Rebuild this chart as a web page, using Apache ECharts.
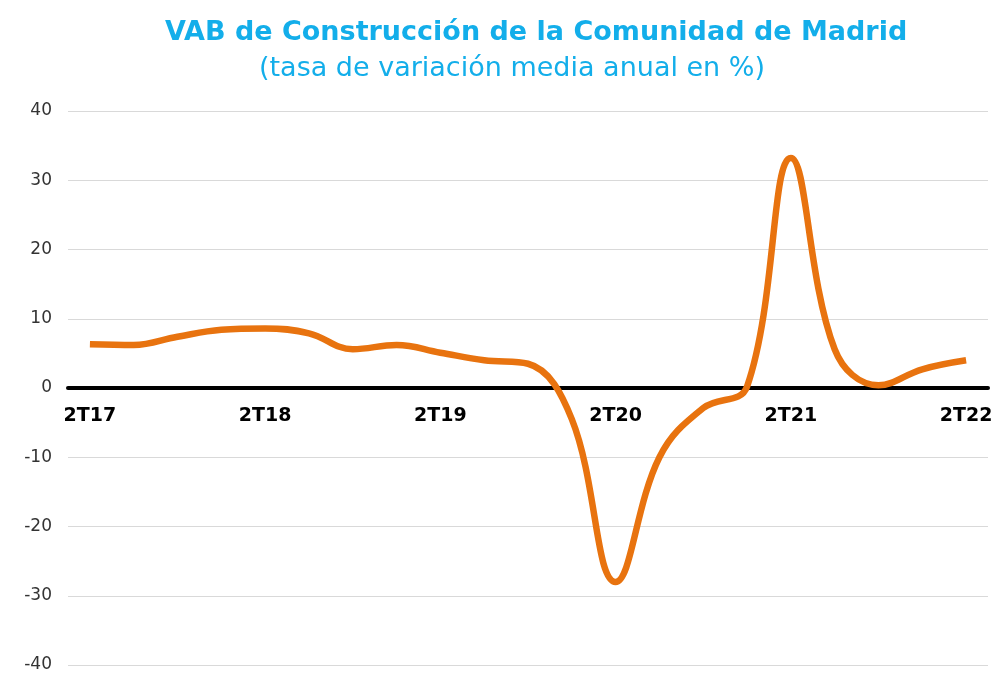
<!DOCTYPE html>
<html>
<head>
<meta charset="utf-8">
<script src="https://cdn.jsdelivr.net/npm/echarts@6/dist/echarts.min.js"></script>
<style>
  html, body { margin: 0; padding: 0; background: #fff; }
  #main { width: 997px; height: 675px; }
</style>
</head>
<body>
<div id="main"></div>
<script>
var quarters = ['2T17', '3T17', '4T17', '1T18', '2T18', '3T18', '4T18', '1T19', '2T19', '3T19', '4T19',
                '1T20', '2T20', '3T20', '4T20', '1T21', '2T21', '3T21', '4T21', '1T22', '2T22'];
var vab = [6.3, 6.2, 7.4, 8.4, 8.6, 7.9, 5.6, 6.2, 5.1, 4.0, 3.5,
           -4.5, -28.0, -10.0, -2.9, 0.2, 33.2, 5.6, 0.4, 2.7, 4.0];
var yTicks = [-40, -30, -20, -10, 0, 10, 20, 30, 40];

var myChart = echarts.init(document.getElementById('main'));
option = {
    title: [
        {
            text: 'VAB de Construcción de la Comunidad de Madrid',
            left: 160,
            top: 14,
            textStyle: {
                color: '#13AEEA',
                fontSize: 27,
                fontWeight: 'bold',
                fontFamily: 'DejaVu Sans'
            }
        },
        {
            text: '(tasa de variación media anual en %)',
            left: 254,
            top: 50,
            textStyle: {
                color: '#13AEEA',
                fontSize: 27,
                fontWeight: 'normal',
                fontFamily: 'DejaVu Sans'
            }
        }
    ],
    grid: {
        left: 68,
        right: 9,
        top: 111,
        bottom: 10,
        outerBoundsMode: 'none',
        containLabel: false
    },
    xAxis: [
        {
            type: 'category',
            data: quarters,
            boundaryGap: true,
            axisLine: { onZero: true, lineStyle: { color: '#000', width: 4 } },
            axisTick: { show: false },
            axisLabel: { show: false }
        },
        {
            // labels only, sitting just under the zero line
            type: 'category',
            data: quarters,
            boundaryGap: true,
            position: 'bottom',
            offset: -277,
            axisLine: { show: false },
            axisTick: { show: false },
            axisLabel: {
                interval: 3,
                color: '#000',
                fontWeight: 'bold',
                fontSize: 19,
                fontFamily: 'DejaVu Sans',
                margin: 19
            }
        }
    ],
    yAxis: {
        type: 'value',
        min: yTicks[0],
        max: yTicks[yTicks.length - 1],
        interval: 10,
        axisLine: { show: false },
        axisTick: { show: false },
        splitLine: { lineStyle: { color: '#d9d9d9', width: 1 } },
        axisLabel: {
            color: '#333',
            fontSize: 17,
            fontFamily: 'DejaVu Sans',
            margin: 16
        }
    },
    series: [
        {
            name: 'VAB',
            type: 'line',
            data: vab,
            smooth: 0.4,
            symbol: 'none',
            lineStyle: { color: '#E8730F', width: 6.5 }
        }
    ]
};
myChart.setOption(option);
</script>
</body>
</html>
